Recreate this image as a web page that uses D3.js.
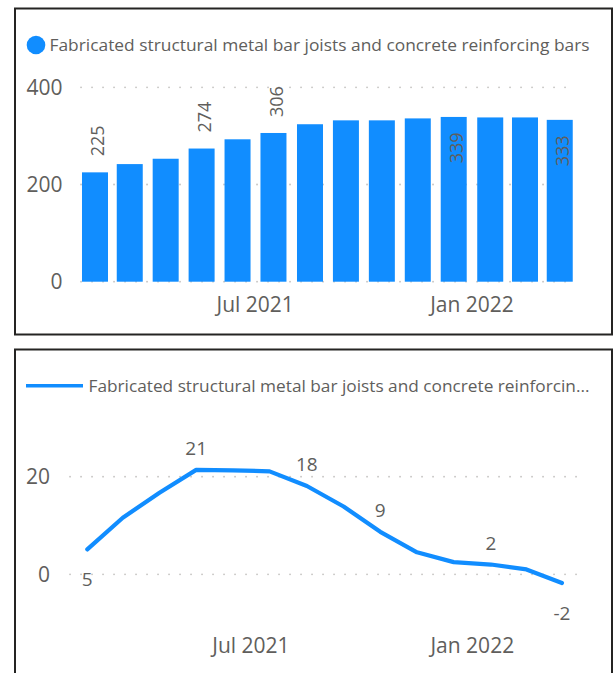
<!DOCTYPE html>
<html>
<head>
<meta charset="utf-8">
<script src="https://cdn.jsdelivr.net/npm/d3@7"></script>
<style>
  html, body { margin: 0; padding: 0; background: #fff; }
  svg { display: block; font-family: "Open Sans", "Noto Sans", sans-serif; }
</style>
</head>
<body>
<svg id="chart" width="616" height="673"></svg>
<script>
// Monthly index of fabricated structural metal bar joists and reinforcing bars
const months = ["2021-02", "2021-03", "2021-04", "2021-05", "2021-06", "2021-07", "2021-08",
                "2021-09", "2021-10", "2021-11", "2021-12", "2022-01", "2022-02", "2022-03"];
const indexValues = [225, 242, 253, 274, 293, 306, 324, 332, 332, 336, 339, 338, 338, 333];
// Year-over-year change, percent
const changeValues = [5.1, 11.6, 16.7, 21.4, 21.3, 21.1, 18.1, 13.9, 8.7, 4.5, 2.5, 2.0, 1.0, -1.8];

const barYTicks = [0, 200, 400];
const lineYTicks = [0, 20];
const xTickDates = ["2021-07-01", "2022-01-01"];
const xTickLabels = ["Jul 2021", "Jan 2022"];

const barLabelIndex = [0, 3, 5, 10, 13];
const lineLabelIndex = [0, 3, 6, 8, 11, 13];

const seriesName = "Fabricated structural metal bar joists and concrete reinforcing bars";
const seriesNameShort = "Fabricated structural metal bar joists and concrete reinforcin...";

const BLUE = "#118DFF";
const TEXT = "#605E5C";
const GRID = "#C8C6C4";

const parseMonth = d3.timeParse("%Y-%m");
const parseDay = d3.timeParse("%Y-%m-%d");
const monthStart = months.map(parseMonth);
const monthMid = monthStart.map(d => new Date((+d + +d3.timeMonth.offset(d, 1)) / 2));
const domainStart = monthStart[0];
const domainEnd = d3.timeMonth.offset(monthStart[monthStart.length - 1], 1);
const tickDates = xTickDates.map(parseDay);

// whole-number labels with a plain hyphen for negatives
const fmtInt = d3.formatLocale({ decimal: ".", thousands: ",", grouping: [3], currency: ["", ""], minus: "-" }).format(".0f");

const svg = d3.select("#chart");

// Panel frames
function frame(x, y, w, h) {
  svg.append("rect")
    .attr("x", x).attr("y", y).attr("width", w).attr("height", h)
    .attr("fill", "#fff").attr("stroke", "#252423").attr("stroke-width", 2);
}
frame(15, 8.5, 597, 326);
frame(15, 349.5, 597, 340);

function dottedGrid(g, ticks, y, x0, x1) {
  g.selectAll("line.grid").data(ticks).join("line")
    .attr("class", "grid")
    .attr("x1", x0).attr("x2", x1)
    .attr("y1", d => y(d)).attr("y2", d => y(d))
    .attr("stroke", GRID).attr("stroke-width", 1.8)
    .attr("stroke-linecap", "round")
    .attr("stroke-dasharray", "0.1 10.9");
}

function yLabels(g, ticks, y, xRight) {
  g.selectAll("text.ylab").data(ticks).join("text")
    .attr("class", "ylab")
    .attr("x", xRight).attr("y", d => y(d))
    .attr("dy", "0.36em")
    .attr("text-anchor", "end")
    .attr("font-size", 21).attr("fill", TEXT)
    .text(d => d);
}

function xLabels(g, x, baseline) {
  g.selectAll("text.xlab").data(tickDates).join("text")
    .attr("class", "xlab")
    .attr("x", d => x(d)).attr("y", baseline)
    .attr("text-anchor", "middle")
    .attr("font-size", 21).attr("fill", TEXT)
    .text((d, i) => xTickLabels[i]);
}

// ---------- Column chart ----------
{
  const g = svg.append("g");
  const x = d3.scaleTime().domain([domainStart, domainEnd]).range([78.5, 578]);
  const y = d3.scaleLinear().domain([0, 400]).range([281.7, 87.3]);
  const barW = 26;

  // legend
  g.append("circle").attr("cx", 36).attr("cy", 45).attr("r", 9.3).attr("fill", BLUE);
  g.append("text").attr("x", 49.5).attr("y", 45).attr("dy", "0.35em")
    .attr("font-size", 17).attr("fill", TEXT)
    .attr("textLength", 540).attr("lengthAdjust", "spacingAndGlyphs")
    .text(seriesName);

  dottedGrid(g, barYTicks, y, 81, 575);
  yLabels(g, barYTicks, y, 62.5);
  xLabels(g, x, 311.5);

  g.selectAll("rect.bar").data(indexValues).join("rect")
    .attr("class", "bar")
    .attr("x", (d, i) => x(monthMid[i]) - barW / 2)
    .attr("width", barW)
    .attr("y", d => y(d))
    .attr("height", d => y(0) - y(d))
    .attr("fill", BLUE);

  // rotated value labels, outside the bar when there is room, otherwise inside
  const plotTop = 80;
  const labels = g.selectAll("text.blab").data(barLabelIndex).join("text")
    .attr("class", "blab")
    .attr("font-size", 18).attr("fill", TEXT)
    .text(i => indexValues[i]);
  labels.each(function (i) {
    const t = d3.select(this);
    const len = this.getComputedTextLength();
    const top = y(indexValues[i]);
    const cx = x(monthMid[i]) + 9.5;
    const outside = top - 16 - len >= plotTop;
    const ty = outside ? top - 16 : top + 15.5;
    t.attr("text-anchor", outside ? "start" : "end")
      .attr("transform", `translate(${cx},${ty}) rotate(-90)`);
  });
}

// ---------- Line chart ----------
{
  const g = svg.append("g");
  const x = d3.scaleTime().domain([domainStart, domainEnd]).range([70.45, 580.6]);
  const y = d3.scaleLinear().domain([-5, 25]).range([598.7, 452.3]);

  // legend
  g.append("line").attr("x1", 26).attr("x2", 83).attr("y1", 385.7).attr("y2", 385.7)
    .attr("stroke", BLUE).attr("stroke-width", 3.5);
  g.append("text").attr("x", 88.5).attr("y", 386).attr("dy", "0.35em")
    .attr("font-size", 17).attr("fill", TEXT)
    .attr("textLength", 501).attr("lengthAdjust", "spacingAndGlyphs")
    .text(seriesNameShort);

  dottedGrid(g, lineYTicks, y, 70, 579);
  yLabels(g, lineYTicks, y, 50);
  xLabels(g, x, 652.5);

  const line = d3.line()
    .x((d, i) => x(monthMid[i]))
    .y(d => y(d));
  g.append("path").datum(changeValues)
    .attr("d", line)
    .attr("fill", "none").attr("stroke", BLUE)
    .attr("stroke-width", 4.2)
    .attr("stroke-linejoin", "round").attr("stroke-linecap", "round");

  const last = changeValues.length - 1;
  g.selectAll("text.llab").data(lineLabelIndex).join("text")
    .attr("class", "llab")
    .attr("x", i => x(monthMid[i]))
    .attr("y", i => (i === 0 || i === last) ? y(changeValues[i]) + 37 : y(changeValues[i]) - 14.5)
    .attr("text-anchor", "middle")
    .attr("font-size", 19).attr("fill", TEXT)
    .text(i => fmtInt(changeValues[i]));
}
</script>
</body>
</html>
